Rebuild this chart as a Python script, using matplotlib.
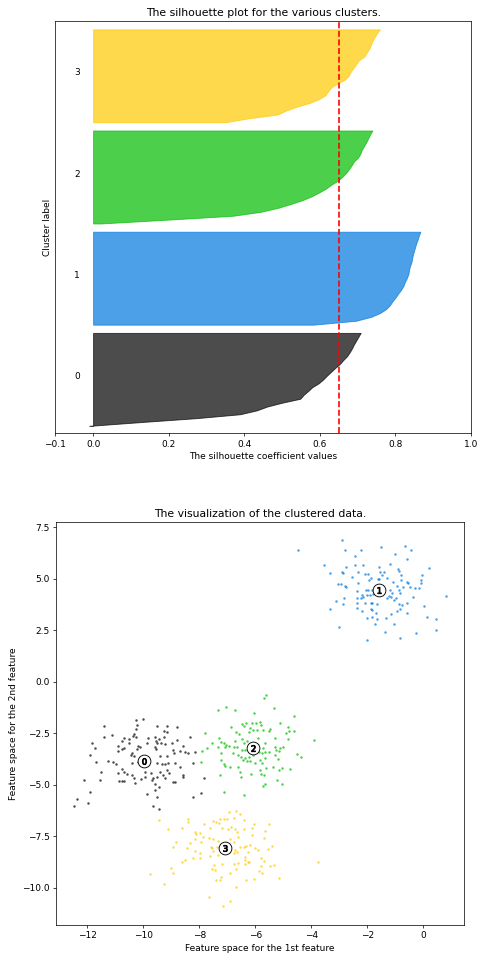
import matplotlib.pyplot as plt
import matplotlib.cm as cm
import numpy as np

n_clusters = 4
silhouette_avg = 0.65
cluster_sizes = [125, 125, 125, 125]

# sorted silhouette values per cluster (bottom to top)
sil_0 = [-0.01, 0.13, 0.275, 0.389, 0.433, 0.461, 0.501, 0.548, 0.557, 0.569, 0.580, 0.597, 0.609,
         0.619, 0.630, 0.641, 0.653, 0.662, 0.672, 0.679, 0.685, 0.690, 0.696, 0.702, 0.708]
sil_1 = [0.583, 0.695, 0.735, 0.759, 0.775, 0.785, 0.792, 0.800, 0.807, 0.815, 0.821, 0.825, 0.830,
         0.834, 0.836, 0.838, 0.842, 0.844, 0.846, 0.849, 0.852, 0.855, 0.859, 0.862, 0.866]
sil_2 = [0.02, 0.20, 0.371, 0.443, 0.488, 0.522, 0.553, 0.578, 0.598, 0.616, 0.630, 0.647, 0.659,
         0.669, 0.677, 0.684, 0.690, 0.701, 0.707, 0.711, 0.717, 0.723, 0.728, 0.733, 0.739]
sil_3 = [0.35, 0.41, 0.488, 0.510, 0.538, 0.573, 0.598, 0.615, 0.622, 0.630, 0.646, 0.666, 0.676,
         0.681, 0.689, 0.696, 0.703, 0.718, 0.724, 0.731, 0.735, 0.739, 0.745, 0.751, 0.759]

# scatter points per cluster (x, y)
points_0 = [(-10.27, -1.86), (-10.02, -1.83), (-10.22, -2.10), (-11.40, -2.15), (-9.53, -2.15),
            (-9.17, -2.13), (-8.79, -2.21), (-10.25, -2.31), (-9.26, -2.38), (-9.15, -2.42),
            (-11.13, -2.59), (-11.39, -2.67), (-10.32, -2.54), (-10.38, -2.64), (-10.25, -2.67),
            (-10.68, -2.75), (-10.77, -2.86), (-10.50, -2.80), (-9.84, -2.75), (-9.60, -2.70),
            (-9.45, -2.80), (-9.27, -2.67), (-8.35, -2.70), (-8.79, -2.83), (-11.85, -2.99),
            (-11.73, -3.23), (-10.89, -3.12), (-10.53, -2.99), (-10.20, -3.12), (-9.88, -2.99),
            (-9.56, -2.86), (-9.52, -2.99), (-9.36, -2.96), (-9.22, -3.02), (-8.98, -2.99),
            (-8.57, -3.12), (-9.58, -3.15), (-10.92, -3.35), (-10.71, -3.23), (-10.77, -3.28),
            (-10.24, -3.28), (-10.12, -3.19), (-9.56, -3.28), (-8.95, -3.31), (-8.92, -3.48),
            (-8.68, -3.35), (-8.51, -3.40), (-8.42, -3.44), (-8.15, -3.40), (-11.90, -3.56),
            (-10.41, -3.48), (-10.45, -3.56), (-10.34, -3.61), (-9.40, -3.61), (-9.17, -3.61),
            (-11.69, -3.88), (-11.27, -3.83), (-11.07, -3.88), (-10.97, -4.00), (-10.41, -3.93),
            (-10.18, -3.88), (-9.85, -3.88), (-9.52, -3.96), (-9.34, -4.00), (-9.22, -4.00),
            (-9.13, -3.93), (-8.86, -3.96), (-8.68, -4.16), (-8.22, -3.96), (-10.77, -4.25),
            (-10.68, -4.40), (-11.51, -4.37), (-10.89, -4.45), (-10.59, -4.48), (-10.41, -4.53),
            (-9.94, -4.37), (-9.73, -4.45), (-9.40, -4.37), (-9.14, -4.29), (-9.08, -4.42),
            (-9.29, -4.53), (-9.22, -4.69), (-9.64, -4.69), (-9.52, -4.61), (-9.70, -4.77),
            (-10.08, -4.74), (-9.94, -4.64), (-10.35, -4.69), (-8.57, -4.53), (-8.60, -4.61),
            (-8.86, -4.85), (-8.96, -4.85), (-10.77, -4.80), (-10.86, -4.80), (-10.68, -4.80),
            (-10.30, -4.93), (-12.11, -4.77), (-11.55, -4.77), (-7.85, -4.69), (-9.60, -4.97),
            (-9.46, -5.13), (-9.58, -5.26), (-11.90, -5.34), (-9.88, -5.45), (-7.93, -5.39),
            (-9.52, -5.61), (-8.24, -5.61), (-12.37, -5.71), (-11.99, -5.87), (-12.47, -6.03),
            (-9.67, -6.03), (-9.46, -6.16)]

points_1 = [(-4.49, 6.37), (-2.90, 6.88), (-2.81, 6.40), (-2.24, 6.40), (-1.51, 6.53), (-0.66, 6.61),
            (-0.43, 6.40), (-1.03, 6.20), (-0.58, 5.95), (-2.44, 6.12), (-3.54, 5.67), (-2.78, 5.56),
            (-2.45, 5.67), (-2.15, 5.67), (-1.58, 5.56), (-1.20, 5.72), (-0.91, 5.46), (-0.86, 5.35),
            (-0.81, 5.18), (0.20, 5.54), (-0.04, 5.18), (-3.35, 5.27), (-2.92, 5.30), (-2.89, 5.27),
            (-2.54, 5.10), (-2.33, 5.30), (-2.10, 5.23), (-1.98, 5.23), (-1.55, 5.30), (-1.41, 5.30),
            (-1.47, 5.18), (-1.59, 4.99), (-1.62, 4.97), (-1.29, 5.02), (-1.09, 4.86), (-0.81, 4.94),
            (-0.60, 4.83), (-0.55, 4.78), (-0.07, 4.94), (-0.07, 4.78), (-3.06, 4.75), (-2.96, 4.75),
            (-2.81, 4.65), (-2.77, 4.59), (-2.35, 4.81), (-1.93, 4.94), (-1.87, 5.02), (-0.93, 4.65),
            (-0.72, 4.62), (-0.49, 4.59), (-0.30, 4.54), (-0.15, 4.54), (-1.98, 4.46), (-2.05, 4.46),
            (-1.83, 4.46), (-1.77, 4.38), (-1.20, 4.46), (-1.11, 4.29), (-0.87, 4.46), (-0.84, 4.29),
            (-2.36, 4.42), (-2.21, 4.21), (-2.15, 4.13), (-2.36, 4.05), (-2.24, 4.05), (-2.01, 4.21),
            (-1.92, 4.21), (-1.79, 4.25), (-2.82, 4.08), (-3.13, 3.92), (-2.87, 3.76), (-2.36, 3.81),
            (-2.07, 3.81), (-1.89, 3.84), (-1.82, 3.81), (-1.67, 3.78), (-1.29, 4.05), (-1.17, 4.13),
            (-1.05, 3.97), (-0.99, 4.05), (-1.22, 4.17), (-0.37, 4.13), (0.81, 4.18), (-0.60, 3.84),
            (-0.87, 3.78), (-0.77, 3.73), (-3.34, 3.53), (-2.36, 3.60), (-2.21, 3.44), (-1.86, 3.55),
            (-1.82, 3.48), (-1.70, 3.32), (-0.96, 3.45), (-0.84, 3.52), (-0.58, 3.32), (0.03, 3.65),
            (-2.02, 3.10), (-1.82, 3.16), (-1.67, 3.03), (-1.33, 3.11), (-1.17, 3.27), (-1.72, 2.80),
            (-1.04, 2.79), (0.11, 3.13), (0.46, 3.03), (-3.02, 2.66), (-1.37, 2.40), (-0.83, 2.12),
            (-0.25, 2.37), (0.46, 2.53), (-2.01, 2.00)]

points_2 = [(-5.61, -0.64), (-5.68, -0.77), (-7.04, -1.21), (-7.35, -1.37), (-6.74, -1.37),
            (-5.35, -1.26), (-6.06, -1.53), (-4.63, -1.66), (-5.13, -2.02), (-4.84, -2.21),
            (-6.87, -2.21), (-6.48, -2.07), (-6.42, -2.15), (-6.32, -2.02), (-6.12, -1.99),
            (-5.98, -2.02), (-5.82, -1.94), (-5.80, -2.10), (-6.18, -2.26), (-6.09, -2.34),
            (-6.24, -2.42), (-5.94, -2.34), (-5.73, -2.34), (-5.49, -2.31), (-5.52, -2.38),
            (-6.68, -2.42), (-6.60, -2.55), (-4.90, -2.47), (-4.79, -2.41), (-4.63, -2.39),
            (-7.81, -2.50), (-7.31, -2.72), (-7.23, -2.91), (-6.72, -2.88), (-6.48, -2.80),
            (-6.30, -2.86), (-5.91, -2.72), (-5.29, -2.72), (-4.83, -2.78), (-3.91, -2.83),
            (-7.56, -2.99), (-7.13, -2.99), (-7.04, -3.07), (-7.08, -3.15), (-6.96, -3.12),
            (-7.34, -3.15), (-6.42, -2.99), (-6.66, -3.18), (-6.78, -3.18), (-6.48, -3.31),
            (-6.36, -3.31), (-5.64, -2.99), (-5.73, -3.20), (-5.29, -3.18), (-5.25, -3.31),
            (-5.11, -3.23), (-5.01, -3.18), (-5.14, -3.36), (-7.73, -3.23), (-7.91, -3.36),
            (-7.23, -3.48), (-6.80, -3.44), (-5.88, -3.39), (-5.76, -3.44), (-5.64, -3.39),
            (-5.52, -3.43), (-4.51, -3.52), (-4.36, -3.67), (-6.62, -3.56), (-6.51, -3.64),
            (-6.36, -3.72), (-6.24, -3.64), (-6.09, -3.56), (-5.31, -3.56), (-7.22, -3.80),
            (-6.44, -3.80), (-6.30, -3.85), (-6.18, -3.85), (-6.00, -3.93), (-5.82, -3.80),
            (-5.67, -3.72), (-5.20, -3.77), (-7.93, -3.88), (-7.13, -3.99), (-7.10, -4.09),
            (-6.90, -4.12), (-6.62, -4.16), (-5.76, -3.96), (-5.61, -4.20), (-5.37, -4.12),
            (-5.82, -4.29), (-6.56, -4.37), (-6.14, -4.48), (-5.79, -4.48), (-5.70, -4.53),
            (-5.17, -4.29), (-5.05, -4.20), (-4.75, -4.24), (-7.25, -4.53), (-6.50, -4.64),
            (-5.67, -4.97), (-5.73, -5.05), (-5.23, -4.77), (-5.05, -4.97), (-7.12, -5.35),
            (-6.42, -5.52)]

points_3 = [(-9.46, -6.71), (-8.39, -6.67), (-8.42, -6.83), (-6.94, -6.34), (-6.69, -6.28),
            (-6.56, -6.42), (-6.78, -6.63), (-7.13, -6.67), (-7.02, -6.68), (-7.28, -6.67),
            (-7.52, -6.75), (-7.40, -6.80), (-7.30, -6.88), (-7.85, -6.93), (-9.13, -7.17),
            (-8.63, -7.12), (-8.15, -7.28), (-8.11, -7.41), (-7.97, -7.36), (-7.61, -7.12),
            (-7.19, -7.09), (-6.99, -7.15), (-6.87, -7.04), (-6.72, -7.15), (-6.66, -7.28),
            (-6.42, -6.71), (-6.06, -6.91), (-6.11, -7.09), (-6.40, -7.15), (-5.50, -6.93),
            (-5.67, -7.23), (-6.12, -7.44), (-5.70, -7.61), (-6.63, -7.52), (-6.92, -7.65),
            (-7.67, -7.57), (-7.87, -7.56), (-8.15, -7.65), (-7.95, -7.77), (-7.53, -7.64),
            (-7.34, -7.73), (-8.83, -7.77), (-8.33, -7.85), (-8.95, -8.04), (-8.45, -8.06),
            (-8.15, -8.20), (-7.58, -8.01), (-7.55, -8.09), (-7.52, -8.22), (-7.37, -8.01),
            (-6.75, -7.80), (-6.54, -8.01), (-6.40, -8.01), (-6.32, -7.98), (-6.18, -7.93),
            (-6.00, -8.09), (-5.92, -8.17), (-6.28, -8.25), (-6.72, -8.17), (-6.75, -8.33),
            (-6.66, -8.28), (-7.61, -8.45), (-7.35, -8.41), (-7.99, -8.33), (-7.97, -8.54),
            (-8.24, -8.58), (-8.51, -8.66), (-8.61, -8.74), (-6.38, -8.50), (-6.36, -8.66),
            (-6.24, -8.74), (-5.80, -8.58), (-5.68, -8.71), (-5.39, -7.96), (-5.54, -8.14),
            (-7.19, -8.87), (-7.49, -8.90), (-6.75, -8.87), (-6.63, -8.82), (-6.36, -8.87),
            (-6.28, -8.77), (-5.79, -8.95), (-5.47, -8.93), (-5.32, -8.90), (-3.76, -8.74),
            (-9.01, -9.06), (-8.96, -9.27), (-7.54, -9.11), (-7.43, -9.14), (-6.68, -9.11),
            (-6.90, -9.31), (-5.86, -9.19), (-5.76, -9.31), (-5.17, -9.52), (-9.76, -9.35),
            (-7.22, -9.47), (-7.25, -9.63), (-7.42, -9.63), (-6.35, -9.65), (-6.06, -9.58),
            (-9.28, -9.82), (-6.68, -9.95), (-7.66, -10.44), (-6.92, -10.65), (-7.17, -10.89)]

centers = [(-9.98, -3.85), (-1.59, 4.43), (-6.09, -3.20), (-7.08, -8.09)]

dpi = 65
fig = plt.figure(figsize=(478 / dpi, 963 / dpi), dpi=dpi)
ax1 = fig.add_axes([0.1157, 0.550, 0.8697, 0.4281])
ax2 = fig.add_axes([0.1172, 0.0395, 0.8542, 0.4182])

# silhouette plot
ax1.set_xlim([-0.1, 1])
ax1.set_ylim([0, sum(cluster_sizes) + (n_clusters + 1) * 10])

y_lower = 10
for i, vals in enumerate([sil_0, sil_1, sil_2, sil_3]):
    size = cluster_sizes[i]
    y_upper = y_lower + size
    color = cm.nipy_spectral(float(i) / n_clusters)
    ys = np.linspace(y_lower, y_upper - 1, len(vals))
    ax1.fill_betweenx(ys, 0, vals, facecolor=color, edgecolor=color, alpha=0.7)
    ax1.text(-0.05, y_lower + 0.5 * size, str(i))
    y_lower = y_upper + 10

ax1.set_title("The silhouette plot for the various clusters.")
ax1.set_xlabel("The silhouette coefficient values")
ax1.set_ylabel("Cluster label")
ax1.axvline(x=silhouette_avg, color="red", linestyle="--", lw=1.8)
ax1.set_yticks([])
ax1.set_xticks([-0.1, 0, 0.2, 0.4, 0.6, 0.8, 1])

# clustered data
for i, pts in enumerate([points_0, points_1, points_2, points_3]):
    pts = np.array(pts)
    color = cm.nipy_spectral(float(i) / n_clusters)
    ax2.scatter(pts[:, 0], pts[:, 1], marker='.', s=30, lw=0, alpha=0.7, c=[color], edgecolor='k')

cx = [c[0] for c in centers]
cy = [c[1] for c in centers]
ax2.scatter(cx, cy, marker='o', c="white", alpha=1, s=200, edgecolor='k')
for i, c in enumerate(centers):
    ax2.scatter(c[0], c[1], marker='$%d$' % i, alpha=1, s=50, edgecolor='k')

ax2.set_xlim(-13.12, 1.46)
ax2.set_ylim(-11.81, 7.74)
ax2.set_title("The visualization of the clustered data.")
ax2.set_xlabel("Feature space for the 1st feature")
ax2.set_ylabel("Feature space for the 2nd feature")

fig.savefig("out.png", dpi=dpi)
